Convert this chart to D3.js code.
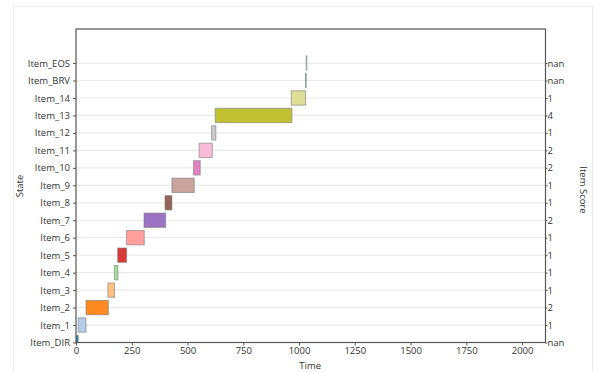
<!DOCTYPE html>
<html>
<head>
<meta charset="utf-8">
<script src="https://cdn.jsdelivr.net/npm/d3@7"></script>
<style>
  html, body { margin: 0; padding: 0; background: #fff; }
  svg { display: block; font-family: "Open Sans", "DejaVu Sans", sans-serif; }
</style>
</head>
<body>
<svg id="chart" width="595" height="372"></svg>
<script>
const categories = ["Item_DIR","Item_1","Item_2","Item_3","Item_4","Item_5","Item_6","Item_7","Item_8","Item_9","Item_10","Item_11","Item_12","Item_13","Item_14","Item_BRV","Item_EOS"];
const starts = [0, 10, 45, 143, 172, 187, 226, 305, 399, 430, 527, 552, 608, 624, 965, 1029, 1032];
const ends   = [10, 45, 145, 173, 188, 227, 306, 402, 430, 530, 557, 611, 627, 968, 1029, 1032, 1035];
const scores = ["nan","1","2","1","1","1","1","2","1","1","2","2","1","4","1","nan","nan"];
const colors = ["#1f77b4","#aec7e8","#ff7f0e","#ffbb78","#98df8a","#d62728","#ff9896","#9467bd","#8c564b","#c49c94","#e377c2","#f7b6d2","#c7c7c7","#bcbd22","#dbdb8d","#17becf","#9edae5"];
const xTicks = [0, 250, 500, 750, 1000, 1250, 1500, 1750, 2000];

const svg = d3.select("#chart");
const L = 76, R = 545.5, T = 29, B = 342.5;

// faint outer frame of the screenshot
svg.append("rect").attr("x", 13.5).attr("y", 6.5).attr("width", 579).attr("height", 380)
  .attr("fill", "none").attr("stroke", "#ececec").attr("stroke-width", 1);

const x = d3.scaleLinear().domain([0, 2105]).range([L, R]);
const y = d3.scaleLinear().domain([0, 17.95]).range([B, T]);
const idx = categories.map((c, i) => i);
const barH = (y(0) - y(1)) * 0.82;

svg.append("defs").append("clipPath").attr("id", "clip")
  .append("rect").attr("x", L).attr("y", T).attr("width", R - L).attr("height", B - T);

// grid
svg.append("g").selectAll("line").data(idx).join("line")
  .attr("x1", L).attr("x2", R)
  .attr("y1", d => y(d)).attr("y2", d => y(d))
  .attr("stroke", "#ebebeb").attr("stroke-width", 1.2);

// bars
svg.append("g").attr("clip-path", "url(#clip)").selectAll("rect").data(idx).join("rect")
  .attr("x", i => x(starts[i]))
  .attr("width", i => Math.max(0.5, x(ends[i]) - x(starts[i])))
  .attr("y", i => y(i) - barH / 2)
  .attr("height", barH)
  .attr("fill", i => colors[i])
  .attr("fill-opacity", 0.92)
  .attr("stroke", "#7a7a7a").attr("stroke-opacity", 0.6).attr("stroke-width", 1);

// axes
const axisColor = "#555";
const styleAxis = g => {
  g.select(".domain").remove();
  g.selectAll(".tick line").attr("stroke", axisColor);
  g.selectAll(".tick text").attr("fill", "#333").style("font-size", "9.5px").style("font-family", "'Open Sans', sans-serif");
};

svg.append("g").attr("transform", `translate(0,${B})`)
  .call(d3.axisBottom(x).tickValues(xTicks).tickFormat(d3.format("d")).tickSize(3).tickPadding(2))
  .call(styleAxis);

svg.append("g").attr("transform", `translate(${L},0)`)
  .call(d3.axisLeft(y).tickValues(idx).tickFormat(i => categories[i]).tickSize(3).tickPadding(3))
  .call(styleAxis);

svg.append("g").attr("transform", `translate(${R},0)`)
  .call(d3.axisRight(y).tickValues(idx).tickFormat(i => scores[i]).tickSize(2).tickPadding(0))
  .call(styleAxis);

// frame
svg.append("rect").attr("x", L).attr("y", T).attr("width", R - L).attr("height", B - T)
  .attr("fill", "none").attr("stroke", axisColor).attr("stroke-width", 1.2);

// labels
svg.append("text").attr("x", (L + R) / 2 - 0.5).attr("y", 369)
  .attr("text-anchor", "middle").attr("fill", "#333").style("font-size", "9.5px").text("Time");
svg.append("text").attr("transform", "translate(23,186) rotate(-90)")
  .attr("text-anchor", "middle").attr("fill", "#333").style("font-size", "9.5px").text("State");
svg.append("text").attr("transform", "translate(580,190) rotate(90)")
  .attr("text-anchor", "middle").attr("fill", "#333").style("font-size", "9.5px").text("Item Score");
</script>
</body>
</html>
